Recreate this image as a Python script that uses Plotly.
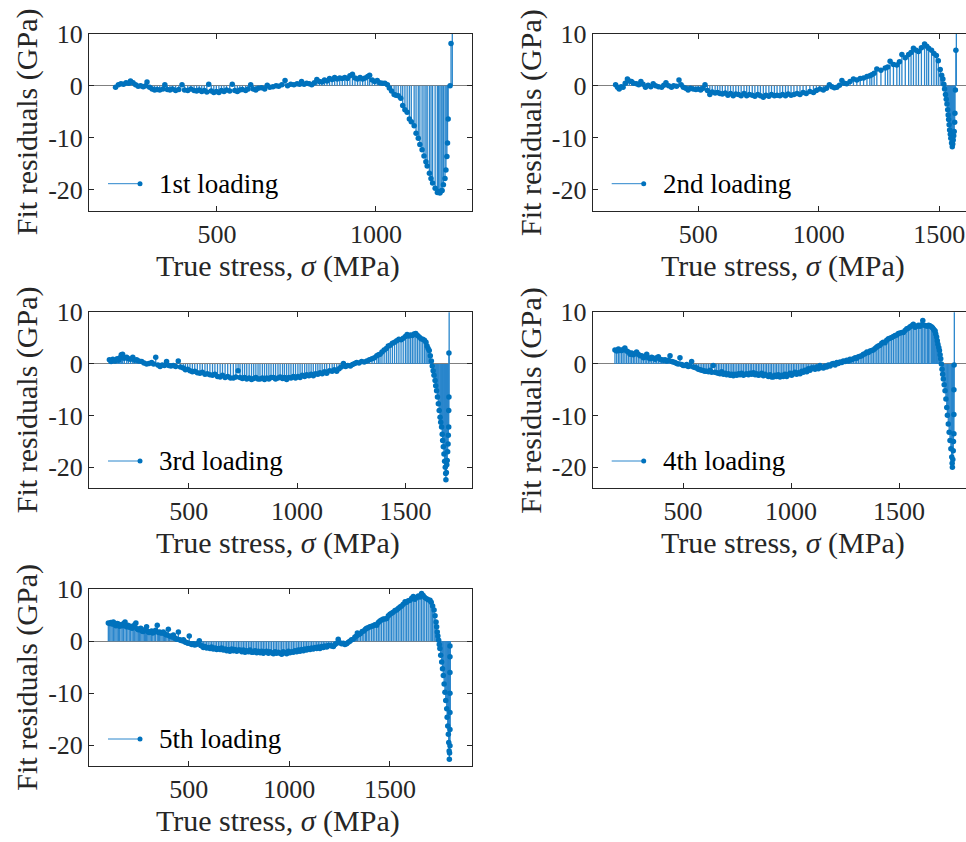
import plotly.graph_objects as go

# ---------------- data ----------------
labels = ["1st loading", "2nd loading", "3rd loading", "4th loading", "5th loading"]

x1 = [181,190,198,206,214,222,228,236,244,252,260,268,276,280,288,296,304,312,320,330,336,344,352,360,370,380,390,398,408,418,428,436,444,452,460,468,474,482,490,498,506,514,522,530,540,548,556,564,572,580,590,598,606,614,622,630,640,650,658,666,676,686,694,704,714,722,732,742,752,760,766,774,782,790,798,806,814,822,830,838,846,854,862,870,878,886,894,902,910,918,926,934,942,950,958,966,974,980,988,996,1004,1012,1020,1028,
      1036,1042,1049,1057,1063,1070,1078,1084,1091,1098,1105,1111,1120,1126,1133,1138,1145,1151,1157,1161,1168,1173,1178,1186,1193,1197,1201,1205,1208,1212,1217,1220,1223,1225,1227,1233,1236,1240]
y1 = [-0.3,0.2,0.4,0.3,0.6,0.5,0.9,0.6,0.2,-0.1,0.0,-0.2,0.0,0.7,-0.3,-0.6,-0.8,-0.7,-0.8,-0.6,0.2,-0.7,-0.8,-0.6,-0.9,-0.7,0.2,-0.8,-0.9,-0.6,-0.9,-1.0,-0.8,-1.1,-0.9,-1.2,0.3,-1.0,-1.3,-1.1,-1.3,-0.9,-1.1,-0.8,-1.0,0.3,-0.9,-1.1,-0.8,-0.7,-0.9,-0.6,0.2,-0.6,-0.8,-0.5,-0.4,-0.6,0.1,-0.3,-0.2,0.0,-0.1,0.2,1.0,0.0,0.3,0.2,0.4,0.3,0.8,0.3,0.5,0.4,0.2,0.6,1.2,0.8,0.7,1.1,0.9,1.4,1.2,1.6,1.3,1.5,1.4,1.6,1.4,1.9,2.2,1.5,1.3,1.6,1.3,1.5,1.8,2.0,1.1,0.8,1.0,0.6,0.5,0.5,
      0.2,-0.45,-1.0,-1.7,-1.8,-1.9,-2.4,-3.8,-4.6,-5.1,-6.4,-6.9,-7.7,-9.1,-10.1,-11.3,-12.3,-13.5,-14.6,-15.4,-16.8,-17.8,-18.7,-19.7,-20.5,-20.3,-20.6,-20.2,-20.1,-19.0,-17.8,-16.2,-13.6,-11.0,-6.4,0.0,8.1,15.0]

x2 = [157,165,172,180,188,197,206,214,223,232,244,253,262,271,281,292,303,313,323,335,348,357,366,377,389,398,410,420,429,438,448,458,468,479,490,500,510,520,528,538,548,558,570,580,590,600,612,623,634,645,656,667,678,690,701,712,724,735,747,758,770,781,793,804,816,827,839,850,862,873,885,897,910,922,935,948,963,978,990,1004,1019,1032,1044,1055,1065,1075,1086,1096,1106,1116,1130,1144,1158,1172,1186,1200,1212,1220,1230,1241,1258,1276,1286,1296,1310,1324,1335,1345,1359,1373,1383,1393,1404,1414,1426,1439,1448,1456,1468,1478,1488,1496,1504,1510,1515,1519,1522,1526,1529,1532,1535,1537,1539,1541,1543,1546,1548,1551,1554,1556,1558,1560,1562,1564,1565,1567,1569,1571]
y2 = [0.2,-0.3,-0.6,-0.2,-0.3,0.5,1.3,0.9,0.8,0.5,0.4,0.2,0.8,0.3,-0.3,0.1,-0.2,0.4,0.0,-0.2,-0.3,0.1,0.6,0.0,-0.3,0.0,-0.1,1.1,0.2,-0.3,-0.5,-0.8,-0.5,-0.6,-0.7,-0.6,-0.8,-0.5,0.2,-0.9,-1.7,-1.2,-1.4,-1.3,-1.5,-1.6,-1.4,-1.8,-1.5,-1.9,-1.6,-1.7,-1.9,-1.5,-1.9,-1.7,-1.8,-2.0,-1.7,-1.9,-2.2,-1.8,-2.0,-1.7,-1.9,-1.8,-1.9,-1.7,-1.9,-1.6,-1.8,-1.7,-1.5,-1.7,-1.3,-1.5,-1.1,-1.3,-0.9,-0.6,-0.8,-0.5,0.2,-0.2,-0.4,-0.3,0.1,1.0,0.5,0.4,0.8,1.3,1.1,1.4,1.5,1.8,1.9,2.1,2.4,3.2,3.0,3.4,3.6,4.7,4.1,4.0,4.6,6.0,5.4,6.0,6.4,7.2,6.8,6.6,7.3,8.0,7.6,7.2,6.8,6.2,5.8,4.8,3.1,2.0,1.3,0.3,-0.6,-1.7,-2.6,-3.5,-4.6,-5.6,-6.5,-7.5,-8.5,-9.3,-10.1,-11.0,-11.7,-11.2,-10.4,-9.6,-8.8,-7.0,-5.3,-0.8,6.8,14.0]

x3 = [134,142,150,160,170,177,183,189,195,203,214,222,232,242,251,260,270,283,294,306,317,329,338,348,358,368,378,388,398,408,418,429,440,452,462,475,485,495,506,517,528,540,552,563,575,586,598,610,621,633,645,656,668,680,693,706,718,728,737,748,758,768,779,790,800,810,820,829,840,850,860,870,880,891,901,912,922,933,942,952,962,972,983,993,1004,1014,1024,1035,1045,1055,1065,1075,1086,1096,1106,1116,1127,1137,1150,1162,1172,1183,1194,1204,1214,1224,1234,1246,1256,1266,1275,1286,1298,1310,1322,1334,1346,1357,1368,1376,1383,1392,1402,1412,1421,1430,1440,1450,1460,1470,1480,1490,1500,1508,1516,1524,1532,1540,1548,1556,1564,1572,1580,1588,1595,1600,1605,1610,1615,1620,1624,1628,1632,1637,1640,1644,1648,1652,1656,1660,1663,1667,1670,1672,1675,1678,1681,1684,1686,1687,1689,1691,1693,1695,1697,1698,1700,1700,1701,1701,1702]
y3 = [0.8,0.5,0.9,0.6,1.0,0.7,1.2,1.8,1.9,1.1,1.3,1.0,0.9,1.3,0.7,0.8,0.6,0.5,0.2,0.0,0.1,0.3,0.0,1.3,-0.2,-0.5,-0.2,-0.3,0.5,-0.3,-0.4,-0.3,-0.5,0.6,-0.6,-0.8,-1.1,-1.0,-1.3,-1.5,-1.4,-1.7,-1.8,-1.6,-2.0,-1.9,-2.1,-2.2,-2.0,-2.4,-2.5,-2.2,-2.6,-2.4,-2.7,-2.7,-2.5,-1.3,-2.6,-2.8,-2.6,-2.9,-2.7,-3.0,-2.8,-2.6,-2.9,-2.9,-2.7,-3.0,-2.7,-2.9,-2.6,-2.6,-2.9,-2.7,-2.5,-2.8,-2.6,-3.0,-2.6,-2.7,-2.4,-2.7,-2.4,-2.6,-2.2,-2.4,-2.1,-2.3,-2.0,-2.3,-1.9,-2.0,-1.7,-1.9,-1.5,-1.8,-1.3,-1.4,-1.1,-1.4,-0.9,-0.6,0.1,-0.5,-0.3,-0.4,-0.1,0.1,0.3,0.2,0.5,0.4,0.6,0.8,1.0,1.2,1.6,1.8,1.9,2.3,2.7,3.0,3.5,3.6,4.0,4.2,4.5,4.8,4.7,5.0,5.3,5.7,5.4,5.6,5.5,5.8,5.9,5.5,5.2,4.9,4.8,4.6,4.2,3.5,3.0,2.6,1.6,0.6,-0.4,-1.3,-2.2,-3.2,-4.2,-5.2,-6.4,-7.7,-9.0,-10.3,-11.3,-12.2,-13.6,-14.8,-16.0,-17.4,-18.8,-20.0,-21.2,-22.4,-21.0,-19.5,-18.7,-17.0,-15.5,-13.8,-12.2,-9.0,-6.4,2.1,13.0]

x4 = [185,193,201,208,216,223,231,239,247,255,262,270,277,285,293,301,309,317,325,332,340,347,355,363,371,378,386,394,401,409,417,425,432,440,448,455,463,471,478,486,494,501,509,517,524,532,540,548,556,563,571,579,587,595,602,610,618,626,633,640,648,656,664,671,679,687,695,702,710,718,726,733,741,749,757,764,772,780,788,795,803,811,818,826,834,841,849,856,864,872,880,887,895,903,910,918,926,933,941,949,957,964,972,980,988,995,1003,1011,1018,1026,1034,1042,1050,1057,1065,1073,1080,1088,1096,1103,1111,1119,1127,1134,1142,1150,1158,1165,1173,1181,1189,1196,1204,1212,1219,1227,1235,1242,1250,1258,1266,1273,1281,1289,1297,1304,1312,1320,1328,1335,1343,1351,1358,1366,1374,1381,1389,1397,1404,1412,1420,1427,1435,1443,1451,1458,1466,1474,1482,1490,1497,1505,1513,1520,1528,1536,1543,1551,1559,1566,1574,1582,1590,1597,1605,1610,1617,1624,1631,1637,1643,1650,1655,1660,1664,1667,1670,1674,1677,1680,1684,1687,1690,1693,1696,1699,1702,1705,1709,1713,1717,1721,1724,1728,1732,1736,1740,1744,1746,1747,1749,1751,1752,1754,1754,1754,1755,1756]
y4 = [2.7,2.5,2.9,2.6,2.6,2.8,3.1,2.5,2.3,1.9,2.1,1.8,2.0,2.3,1.9,1.6,1.6,1.2,1.4,1.9,1.2,1.0,1.3,1.1,0.9,1.2,1.4,0.9,0.8,0.7,0.8,0.6,0.7,1.6,0.5,0.4,0.3,0.1,0.0,1.2,-0.1,-0.3,-0.3,-0.1,-0.5,-0.4,0.5,-0.6,-0.7,-0.8,-1.0,-1.1,-1.2,-1.3,-1.4,-1.4,-1.5,-1.2,-1.6,-0.3,-1.6,-1.7,-1.8,-1.9,-1.5,-2.0,-1.8,-2.1,-1.9,-2.2,-2.0,-2.3,-2.0,-2.2,-1.9,-2.1,-1.8,-2.2,-2.0,-1.9,-2.1,-1.8,-2.0,-1.7,-2.1,-1.9,-2.2,-2.1,-1.8,-2.3,-2.0,-2.2,-2.4,-2.1,-2.5,-2.5,-2.2,-2.4,-2.1,-2.5,-2.2,-2.4,-2.0,-2.4,-2.1,-1.8,-2.2,-1.9,-1.6,-2.0,-1.7,-1.9,-1.4,-1.6,-1.2,-1.5,-0.9,-1.2,-0.8,-0.8,-1.0,-0.6,-0.9,-0.3,-0.7,-0.8,-0.4,-0.6,-0.2,-0.4,0.0,0.1,-0.2,0.3,0.1,0.4,0.3,0.6,0.5,0.7,0.6,0.9,0.8,1.0,1.2,1.1,1.4,1.5,1.6,1.9,2.0,2.3,2.2,2.5,2.6,2.7,3.0,3.3,3.5,3.6,4.0,4.2,4.1,4.6,4.9,5.0,5.1,5.3,5.5,5.6,5.9,6.0,6.1,6.1,6.5,6.8,6.9,7.2,7.4,7.7,7.1,7.3,7.5,7.3,7.6,8.4,7.5,7.4,7.3,7.5,7.4,7.2,7.0,6.7,6.5,6.4,5.8,5.2,4.5,3.8,3.2,2.6,1.8,1.0,0.0,-1.0,-2.0,-2.9,-4.0,-5.2,-6.8,-8.4,-9.9,-11.6,-13.2,-14.8,-16.4,-18.0,-19.2,-20.0,-18.5,-16.8,-15.0,-13.5,-9.8,-5.0,-0.2,14.0]

x5 = [101,108,114,120,126,133,139,145,151,157,164,170,177,184,191,198,205,212,219,225,232,238,244,250,256,262,268,274,280,286,291,297,303,309,316,322,329,336,344,350,356,362,368,374,380,386,392,399,405,412,418,424,430,436,442,449,455,461,467,474,480,486,492,497,503,509,516,523,530,538,546,553,560,567,573,581,589,597,606,614,622,631,639,648,656,664,672,681,689,697,705,714,722,730,739,747,755,764,772,780,788,797,805,813,821,830,838,846,855,863,871,879,887,896,904,912,921,929,937,945,954,962,970,979,987,995,1003,1012,1020,1028,1037,1045,1053,1061,1070,1078,1086,1094,1103,1111,1119,1128,1136,1144,1152,1161,1169,1177,1186,1194,1202,1210,1219,1227,1235,1243,1251,1260,1268,1276,1285,1293,1301,1309,1318,1326,1334,1338,1346,1354,1362,1370,1378,1384,1392,1400,1409,1417,1425,1434,1442,1450,1458,1467,1475,1484,1492,1500,1508,1516,1525,1533,1541,1550,1558,1566,1575,1583,1591,1600,1608,1616,1624,1632,1641,1649,1657,1665,1673,1682,1690,1699,1705,1712,1719,1724,1729,1732,1735,1738,1742,1745,1748,1752,1757,1761,1765,1769,1773,1777,1782,1784,1787,1790,1792,1794,1795,1796,1798,1798,1798,1798,1798,1798,1798]
y5 = [3.5,3.4,3.6,3.3,3.7,3.2,3.0,3.4,3.3,2.9,3.2,3.0,3.4,3.7,2.8,3.1,2.7,2.9,2.5,2.8,3.2,3.5,2.4,2.2,2.3,2.5,2.0,1.9,2.1,2.3,2.8,1.9,1.7,1.8,2.0,1.6,1.8,2.1,3.1,1.7,1.8,1.6,1.6,1.8,1.5,1.3,1.2,2.3,1.0,0.9,0.8,1.2,0.7,0.5,0.4,1.8,0.3,0.2,0.1,0.3,-0.1,-0.2,-0.3,-0.4,1.0,-0.5,-0.6,-0.5,-0.7,-0.6,-0.4,0.1,-0.8,-0.9,-1.2,-1.0,-1.3,-1.2,-1.4,-1.1,-1.5,-1.3,-1.6,-1.4,-1.6,-1.3,-1.7,-1.5,-1.8,-1.6,-1.9,-1.5,-1.8,-1.6,-1.9,-1.7,-1.7,-2.0,-1.7,-2.1,-1.8,-2.0,-1.7,-2.1,-2.1,-1.8,-2.2,-1.9,-2.2,-1.9,-2.3,-2.0,-1.9,-2.3,-2.0,-2.2,-2.4,-2.0,-2.3,-2.1,-2.3,-2.5,-2.0,-2.2,-2.4,-1.9,-2.2,-2.0,-2.1,-1.8,-2.0,-1.7,-1.9,-1.6,-1.8,-1.5,-1.7,-1.4,-1.6,-1.3,-1.5,-1.2,-1.4,-1.1,-1.4,-1.0,-1.2,-0.9,-1.1,-0.8,-0.8,-0.9,-1.0,-0.6,-0.4,0.4,-0.3,-0.5,-0.4,-0.6,-0.5,-0.2,0.0,0.3,0.4,0.8,1.0,1.6,1.3,1.5,1.9,2.0,2.3,2.5,2.6,2.8,2.9,3.0,3.2,3.1,3.6,3.9,4.1,4.3,4.3,4.4,4.9,5.2,5.4,5.6,5.9,6.0,6.3,6.6,6.8,7.1,7.6,7.5,7.8,7.9,8.3,8.6,8.1,8.4,8.7,8.5,9.2,8.8,8.4,8.2,8.0,7.9,7.5,6.8,6.0,4.9,3.7,2.8,1.8,1.0,0.2,-0.6,-1.4,-2.7,-4.0,-5.3,-6.6,-8.2,-9.8,-11.4,-13.0,-14.6,-16.3,-17.9,-19.5,-21.1,-22.7,-21.5,-20.1,-17.0,-13.7,-10.0,-6.0,-3.0,-0.9]

xs_all = [x1, x2, x3, x4, x5]
ys_all = [y1, y2, y3, y4, y5]

y_tickvals = [-20, -10, 0, 10]
y_ticktext = ["-20", "-10", "0", "10"]
x_tickvals = [500, 1000, 1500]
x_ticktext = ["500", "1000", "1500"]

x_title = "True stress, <i>σ</i> (MPa)"
y_title = "Fit residuals (GPa)"

# ---------------- layout geometry (pixels) ----------------
W, H = 966, 842
panels = [
    dict(l=89, r=471.7, t=33.7, b=210.7, xr=[97.5, 1301], box=True, tc=278),
    dict(l=592.7, r=966, t=33.7, b=210.7, xr=[62, 1611], box=False, tc=783),
    dict(l=89, r=471.7, t=312.3, b=488, xr=[40, 1806], box=True, tc=278),
    dict(l=592.7, r=966, t=312.3, b=488, xr=[82, 1810], box=False, tc=783),
    dict(l=89, r=471.7, t=589.3, b=766, xr=[5, 1906], box=True, tc=278),
]
yrange = [-24, 10]

BLUE = "#0072BD"
STEM = "#2a86cc"
AX = "#262626"
FONT = "Liberation Serif, Times New Roman, serif"

def fx(px):
    return px / W

def fy(py):
    return 1 - py / H

fig = go.Figure()
shapes = []
annotations = []

for i, (p, xs, ys, lab) in enumerate(zip(panels, xs_all, ys_all, labels)):
    n = "" if i == 0 else str(i + 1)
    xa, ya = "x" + n, "y" + n
    sx, sy = [], []
    for xv, yv in zip(xs, ys):
        sx += [xv, xv, None]
        sy += [0, yv, None]
    fig.add_trace(go.Scatter(x=sx, y=sy, mode="lines", xaxis=xa, yaxis=ya,
                             line=dict(color=STEM, width=1.3),
                             showlegend=False, hoverinfo="skip"))
    fig.add_trace(go.Scatter(x=xs, y=ys, mode="markers", xaxis=xa, yaxis=ya,
                             marker=dict(color=BLUE, size=5.5, line=dict(width=0)),
                             showlegend=False, name=lab))
    common = dict(showgrid=False, showline=True, linecolor=AX, linewidth=1,
                  ticks="inside", ticklen=5, tickwidth=1, tickcolor=AX,
                  automargin=False,
                  tickfont=dict(family=FONT, size=26, color=AX))
    fig.layout["xaxis" + n] = dict(
        domain=[fx(p["l"]), fx(p["r"])], anchor=ya, range=p["xr"],
        tickvals=x_tickvals, ticktext=x_ticktext, mirror="ticks",
        zeroline=False, **common)
    fig.layout["yaxis" + n] = dict(
        domain=[fy(p["b"]), fy(p["t"])], anchor=xa, range=yrange,
        tickvals=y_tickvals, ticktext=y_ticktext,
        mirror="ticks" if p["box"] else False,
        zeroline=True, zerolinecolor="#808080", zerolinewidth=1, **common)
    annotations.append(dict(text=x_title, xref="paper", yref="paper",
                            x=fx(p["tc"]), y=fy(p["b"] + 55), showarrow=False,
                            xanchor="center", yanchor="middle",
                            font=dict(family=FONT, size=30, color=AX)))
    annotations.append(dict(text=y_title, xref="paper", yref="paper",
                            x=fx(p["l"] - 62), y=fy((p["t"] + p["b"]) / 2),
                            showarrow=False, textangle=-90,
                            xanchor="center", yanchor="middle",
                            font=dict(family=FONT, size=30, color=AX)))
    ly = p["b"] - 27
    shapes.append(dict(type="line", xref="paper", yref="paper",
                       x0=fx(p["l"] + 19), x1=fx(p["l"] + 51), y0=fy(ly), y1=fy(ly),
                       line=dict(color=STEM, width=1)))
    shapes.append(dict(type="circle", xref="paper", yref="paper",
                       xsizemode="pixel", ysizemode="pixel",
                       xanchor=fx(p["l"] + 51), yanchor=fy(ly),
                       x0=-2.5, x1=2.5, y0=-2.5, y1=2.5,
                       fillcolor=BLUE, line=dict(width=0)))
    annotations.append(dict(text=lab, xref="paper", yref="paper",
                            x=fx(p["l"] + 68), y=fy(ly), showarrow=False,
                            xanchor="left", yanchor="middle",
                            font=dict(family=FONT, size=27, color="#000000")))

fig.update_layout(width=W, height=H, margin=dict(l=0, r=0, t=0, b=0),
                  paper_bgcolor="white", plot_bgcolor="white",
                  shapes=shapes, annotations=annotations, showlegend=False)

fig.write_html("out.html")
